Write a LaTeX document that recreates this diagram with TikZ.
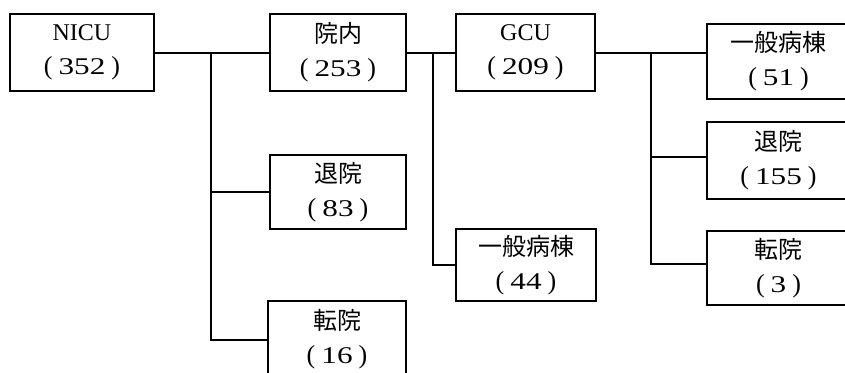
\documentclass[tikz,border=0pt]{standalone}
\usepackage{fontspec}
\setmainfont{Liberation Serif}
\newfontfamily\jp{Noto Sans CJK JP}
\newfontfamily\dig[FakeStretch=1.3]{Liberation Serif}
\newcommand\cnt[1]{{\fontsize{26}{34}\selectfont(}\hspace{6pt}{\dig #1}\hspace{6pt}{\fontsize{26}{34}\selectfont)}}
\begin{document}
\begin{tikzpicture}[x=1pt,y=-1pt,
  box/.style={draw, line width=2pt, inner sep=0pt, align=center,
    font=\fontsize{24}{34}\selectfont},
  conn/.style={line width=2pt}]
\useasboundingbox (0,0) rectangle (845,372);
\clip (0,0) rectangle (845,372);
\node[box, minimum width=144pt, minimum height=77pt] (nicu) at (82,52.5) {NICU\\\cnt{352}};
\node[box, minimum width=136pt, minimum height=77pt] (innai) at (338,52.5) {{\jp 院内}\\\cnt{253}};
\node[box, minimum width=139pt, minimum height=77pt] (gcu) at (525.5,52.5) {GCU\\\cnt{209}};
\node[box, minimum width=136pt, minimum height=74pt] (taiin83) at (338,192) {{\jp 退院}\\\cnt{83}};
\node[box, minimum width=138pt, minimum height=77pt] (tenin16) at (337,339.5) {{\jp 転院}\\\cnt{16}};
\node[box, minimum width=140pt, minimum height=72pt] (ippan44) at (526,265) {{\jp 一般病棟}\\\cnt{44}};
\node[box, minimum width=143pt, minimum height=75pt] (ippan51) at (778.5,61.5) {{\jp 一般病棟}\\\cnt{51}};
\node[box, minimum width=143pt, minimum height=77pt] (taiin155) at (778.5,160.5) {{\jp 退院}\\\cnt{155}};
\node[box, minimum width=143pt, minimum height=74pt] (tenin3) at (778.5,268) {{\jp 転院}\\\cnt{3}};
\coordinate (j1) at (211,53);
\coordinate (j2) at (433,52.5);
\coordinate (j3) at (651,53);
\draw[conn] (nicu.east |- j1) -- (j1) -- (innai.west |- j1);
\draw[conn] (j1) |- (taiin83.west);
\draw[conn] (j1) |- (tenin16.west);
\draw[conn] (innai.east) -- (j2) -- (gcu.west);
\draw[conn] (j2) |- (ippan44.west);
\draw[conn] (gcu.east |- j3) -- (j3) -- (ippan51.west |- j3);
\draw[conn] (j3) |- ([yshift=3.5pt]taiin155.west);
\draw[conn] (j3) |- ([yshift=4pt]tenin3.west);
\end{tikzpicture}
\end{document}
